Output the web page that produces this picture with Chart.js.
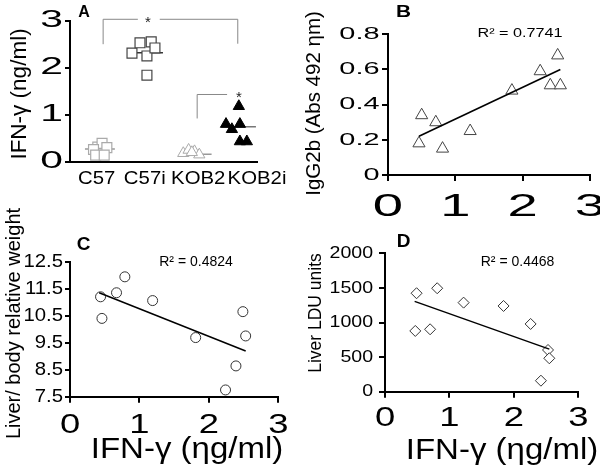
<!DOCTYPE html>
<html><head><meta charset="utf-8">
<script src="https://cdn.jsdelivr.net/npm/chart.js@4"></script>
<style>
html,body{margin:0;padding:0;background:#fff;}
#wrap{position:relative;width:600px;height:471px;overflow:hidden;background:#fff;}
canvas{position:absolute;left:0;top:0;}
</style></head><body>
<div id="wrap">
<canvas id="cA" width="600" height="471"></canvas>
<canvas id="cB" width="600" height="471"></canvas>
<canvas id="cC" width="600" height="471"></canvas>
<canvas id="cD" width="600" height="471"></canvas>
</div>
<script>
// ---------- Panel A data ----------
const groupLabels = ['C57', 'C57i', 'KOB2', 'KOB2i'];
const groupTickPos = [1, 1.9, 2.9, 4];
const aYTicks = [0, 1, 2, 3];
const c57X = [1.02, 1.10, 0.94, 1.19, 0.98, 1.14];
const c57Y = [0.31, 0.39, 0.26, 0.30, 0.14, 0.14];
const c57iX = [1.66, 1.81, 2.02, 1.94, 2.09, 1.94];
const c57iY = [2.31, 2.53, 2.55, 2.25, 2.42, 1.84];
const kob2X = [2.62, 2.72, 2.83, 2.92, 2.78];
const kob2Y = [0.18, 0.25, 0.22, 0.15, 0.20];
const kob2iX = [3.66, 3.42, 3.53, 3.68, 3.68, 3.81];
const kob2iY = [1.18, 0.80, 0.69, 0.80, 0.43, 0.43];
const groupMeanY = [0.27, 2.32, 0.16, 0.745];
const groupMeanSpan = [[0.78, 1.34], [1.58, 2.24], [2.56, 3.15], [3.34, 3.98]];
const sigBrackets = [
  {x1: 1.12, x2: 3.64, yLeft: 2.50, yRight: 2.51, yTop: 3.03, gap: [1.77, 2.18], starX: 1.96, starY: 3.015},
  {x1: 2.88, x2: 3.44, yLeft: 0.92, yRight: null, yTop: 1.43, gap: null, starX: 3.66, starY: 1.42}
];
// ---------- Panel B data ----------
const bXTicks = [0, 1, 2, 3];
const bYTicks = [0, 0.2, 0.4, 0.6, 0.8];
const ifnB = [0.50, 0.46, 0.71, 0.81, 1.22, 1.84, 2.26, 2.52, 2.41, 2.56];
const iggB = [0.34, 0.18, 0.30, 0.15, 0.25, 0.48, 0.59, 0.68, 0.51, 0.51];
const fitB = [[0.46, 0.22], [2.56, 0.60]];
const r2B = 'R² = 0.7741';
// ---------- Panel C data ----------
const cXTicks = [0, 1, 2, 3];
const cYTicks = [7.5, 8.5, 9.5, 10.5, 11.5, 12.5];
const ifnC = [0.44, 0.46, 0.67, 0.79, 1.19, 1.81, 2.49, 2.53, 2.39, 2.24];
const liverC = [11.2, 10.4, 11.35, 11.94, 11.06, 9.69, 10.65, 9.75, 8.64, 7.75];
const fitC = [[0.42, 11.35], [2.53, 9.19]];
const r2C = 'R² = 0.4824';
// ---------- Panel D data ----------
const dXTicks = [0, 1, 2, 3];
const dYTicks = [0, 500, 1000, 1500, 2000];
const ifnD = [0.49, 0.47, 0.70, 0.81, 1.22, 1.84, 2.26, 2.53, 2.55, 2.42];
const lduD = [1423, 878, 902, 1495, 1287, 1239, 979, 603, 483, 159];
const fitD = [[0.46, 1305], [2.55, 615]];
const r2D = 'R² = 0.4468';

const FONT = "'Liberation Sans', Arial, Helvetica, sans-serif";
function txt(ctx, s, x, y, o) {
  ctx.save();
  ctx.translate(x, y);
  if (o.rot) ctx.rotate(o.rot);
  ctx.scale(o.sx || 1, 1);
  ctx.font = (o.bold ? 'bold ' : '') + o.size + 'px ' + FONT;
  ctx.fillStyle = o.color || '#000';
  ctx.textAlign = o.align || 'center';
  ctx.textBaseline = 'middle';
  ctx.fillText(s, 0, 0);
  ctx.restore();
}
const pts = (xs, ys) => xs.map((x, i) => ({x: x, y: ys[i]}));
const seg = p => p.map(q => ({x: q[0], y: q[1]}));

function axis(min, max, tickVals, tickLen, cb) {
  return {
    type: 'linear', min: min, max: max,
    afterBuildTicks: s => { s.ticks = tickVals.map(v => ({value: v})); },
    afterFit: s => { if (s.isHorizontal()) s.height = 10; else s.width = 10; },
    ticks: {display: false, callback: cb || (v => String(v))},
    grid: {display: tickLen > 0, drawOnChartArea: false, drawTicks: true, tickLength: tickLen || 1, color: '#000', lineWidth: 2},
    border: {display: true, color: '#000', width: 2}
  };
}
function textPlugin(name, spec) {
  return {
    id: name,
    afterDraw(chart) {
      const ctx = chart.ctx;
      if (spec.extra) spec.extra(chart, ctx);
      if (spec.xTicks) {
        const s = chart.scales.x, o = spec.xTicks;
        s.ticks.forEach(t => txt(ctx, t.label, s.getPixelForValue(t.value), o.y, o));
      }
      if (spec.yTicks) {
        const s = chart.scales.y, o = spec.yTicks;
        s.ticks.forEach(t => txt(ctx, t.label, o.x, s.getPixelForValue(t.value), Object.assign({align: 'right'}, o)));
      }
      (spec.labels || []).forEach(l => txt(ctx, l.text, l.x, l.y, l));
    }
  };
}
function pad(L, T, R, B) { return {left: L - 10, top: T, right: 600 - R, bottom: 471 - B - 10}; }
function baseOpts(area, xAx, yAx) {
  return {
    responsive: false, animation: false, events: [],
    layout: {padding: area},
    plugins: {legend: {display: false}, tooltip: {enabled: false}},
    scales: {x: xAx, y: yAx}
  };
}
const lineDs = (data, color, w) => ({data: data, showLine: true, pointRadius: 0, borderColor: color, borderWidth: w, fill: false});

// ---------- Panel A ----------
new Chart(document.getElementById('cA'), {
  type: 'scatter',
  data: {datasets: [
    {data: pts(kob2iX, kob2iY), pointStyle: 'triangle', pointRadius: 6.5, backgroundColor: '#000', borderColor: '#000', borderWidth: 1},
    {data: pts(kob2X, kob2Y), pointStyle: 'triangle', pointRadius: 6.5, backgroundColor: '#fff', borderColor: '#aaa', borderWidth: 1},
    {data: pts(c57iX, c57iY), pointStyle: 'rect', pointRadius: 7, backgroundColor: '#fff', borderColor: '#444', borderWidth: 1.2},
    {data: pts(c57X, c57Y), pointStyle: 'rect', pointRadius: 7, backgroundColor: '#fff', borderColor: '#aaa', borderWidth: 1.2},
  ].concat(groupMeanY.map((m, i) => lineDs([{x: groupMeanSpan[i][0], y: m}, {x: groupMeanSpan[i][1], y: m}], ['#999', '#333', '#999', '#777'][i], 1.5)))},
  options: baseOpts(pad(70, 20.7, 257, 161.7),
    axis(0.5, 4.0, groupTickPos, 0, (v, i) => groupLabels[i]),
    axis(0, 3, aYTicks, 5)),
  plugins: [textPlugin('tA', {
    xTicks: {y: 178.5, size: 18.5, sx: 1.1},
    yTicks: {x: 63, size: 24, sx: 1.7},
    labels: [
      {text: 'A', x: 84, y: 12.5, size: 16, bold: true},
      {text: 'IFN-γ (ng/ml)', x: 20, y: 94, size: 22.5, rot: -Math.PI / 2}
    ],
    extra: (chart, ctx) => {
      const xs = chart.scales.x, ys = chart.scales.y;
      ctx.save();
      ctx.strokeStyle = '#888'; ctx.lineWidth = 1;
      sigBrackets.forEach(b => {
        const x1 = xs.getPixelForValue(b.x1), x2 = xs.getPixelForValue(b.x2), yt = ys.getPixelForValue(b.yTop);
        ctx.beginPath();
        ctx.moveTo(x1, ys.getPixelForValue(b.yLeft)); ctx.lineTo(x1, yt);
        if (b.gap) {
          ctx.lineTo(xs.getPixelForValue(b.gap[0]), yt);
          ctx.moveTo(xs.getPixelForValue(b.gap[1]), yt);
        }
        ctx.lineTo(x2, yt);
        if (b.yRight !== null) ctx.lineTo(x2, ys.getPixelForValue(b.yRight));
        ctx.stroke();
        txt(ctx, '*', xs.getPixelForValue(b.starX), ys.getPixelForValue(b.starY) + 3, {size: 15, color: '#222'});
      });
      ctx.restore();
    }
  })]
});

// ---------- Panel B ----------
new Chart(document.getElementById('cB'), {
  type: 'scatter',
  data: {datasets: [
    lineDs(seg(fitB), '#000', 1.6),
    {data: pts(ifnB, iggB), pointStyle: 'triangle', pointRadius: 7, backgroundColor: '#fff', borderColor: '#444', borderWidth: 1}
  ]},
  options: baseOpts(pad(388, 34.3, 590, 175), axis(0, 3, bXTicks, 6), axis(0, 0.8, bYTicks, 6)),
  plugins: [textPlugin('tB', {
    xTicks: {y: 206.7, size: 32, sx: 1.7},
    yTicks: {x: 379.5, size: 17, sx: 1.7},
    labels: [
      {text: 'B', x: 403.5, y: 13, size: 16, bold: true, sx: 1.3},
      {text: 'IgG2b (Abs 492 ηm)', x: 314, y: 103.5, size: 20.5, rot: -Math.PI / 2},
      {text: r2B, x: 520, y: 34, size: 12, sx: 1.35}
    ]
  })]
});

// ---------- Panel C ----------
new Chart(document.getElementById('cC'), {
  type: 'scatter',
  data: {datasets: [
    lineDs(seg(fitC), '#000', 1.5),
    {data: pts(ifnC, liverC), pointStyle: 'circle', pointRadius: 5, backgroundColor: '#fff', borderColor: '#333', borderWidth: 1}
  ]},
  options: baseOpts(pad(70, 261.7, 278.3, 396.7), axis(0, 3, cXTicks, 6), axis(7.5, 12.5, cYTicks, 5)),
  plugins: [textPlugin('tC', {
    xTicks: {y: 425, size: 28, sx: 1.3},
    yTicks: {x: 63, size: 18.5, sx: 1.1},
    labels: [
      {text: 'C', x: 83.5, y: 245, size: 19, bold: true},
      {text: 'Liver/ body relative weight', x: 14, y: 323.5, size: 20, rot: -Math.PI / 2},
      {text: 'IFN-γ (ηg/ml)', x: 187, y: 450, size: 30, sx: 1.1},
      {text: r2C, x: 196, y: 262, size: 14}
    ]
  })]
});

// ---------- Panel D ----------
new Chart(document.getElementById('cD'), {
  type: 'scatter',
  data: {datasets: [
    lineDs(seg(fitD), '#000', 1.5),
    {data: pts(ifnD, lduD), pointStyle: 'rectRot', pointRadius: 5.5, backgroundColor: '#fff', borderColor: '#333', borderWidth: 1}
  ]},
  options: baseOpts(pad(385, 253.3, 578.3, 391.7), axis(0, 3, dXTicks, 6), axis(0, 2000, dYTicks, 6)),
  plugins: [textPlugin('tD', {
    xTicks: {y: 418.3, size: 28, sx: 1.3},
    yTicks: {x: 373, size: 17, sx: 1.15},
    labels: [
      {text: 'D', x: 403.5, y: 241.5, size: 19, bold: true},
      {text: 'Liver LDU units', x: 316, y: 313, size: 17.5, rot: -Math.PI / 2},
      {text: 'IFN-γ (ηg/ml)', x: 502, y: 451, size: 30, sx: 1.1},
      {text: r2D, x: 517.5, y: 262, size: 14}
    ]
  })]
});
</script>
</body></html>
